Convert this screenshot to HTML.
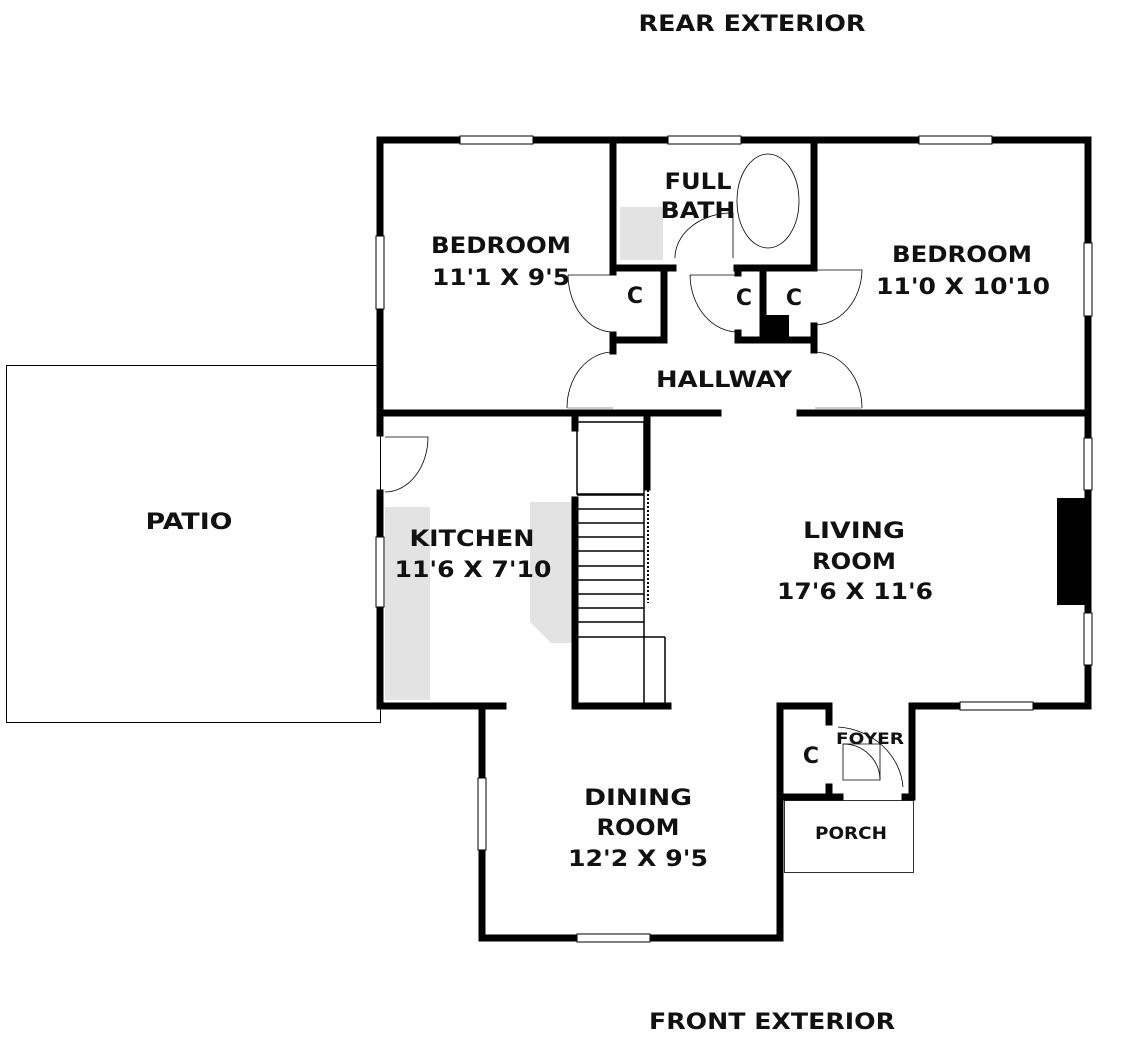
<!DOCTYPE html>
<html><head><style>
body{margin:0;background:#fff;}
svg{display:block;}
text{font-family:"DejaVu Sans","Liberation Sans",sans-serif;font-weight:bold;fill:#111;text-anchor:middle;}
</style></head><body>
<svg width="1132" height="1041" viewBox="0 0 1132 1041" xmlns="http://www.w3.org/2000/svg">
<rect width="1132" height="1041" fill="#fff"/>
<rect x="6.5" y="365.5" width="374" height="357" fill="none" stroke="#000" stroke-width="1"/>
<rect x="383" y="416" width="330" height="288" fill="#fff"/>
<g fill="#e3e3e3">
<rect x="385" y="507" width="45" height="193"/>
<polygon points="530,502 572,502 572,643 551,643 530,622"/>
<rect x="620" y="207" width="43" height="53"/>
</g>
<g stroke="#000" stroke-width="7" fill="none" stroke-linecap="square">
<line x1="380" y1="140" x2="810" y2="140"/>
<line x1="820" y1="140" x2="1088" y2="140"/>
<line x1="380" y1="140" x2="380" y2="433"/>
<line x1="380" y1="493" x2="380" y2="706"/>
<line x1="1088" y1="140" x2="1088" y2="706"/>
<line x1="380" y1="413" x2="718" y2="413"/>
<line x1="800" y1="413" x2="1088" y2="413"/>
<line x1="613" y1="140" x2="613" y2="272"/>
<line x1="613" y1="335" x2="613" y2="351"/>
<line x1="613" y1="268" x2="673" y2="268"/>
<line x1="664" y1="268" x2="664" y2="340"/>
<line x1="613" y1="340" x2="664" y2="340"/>
<line x1="814" y1="140" x2="814" y2="268"/>
<line x1="737" y1="268" x2="814" y2="268"/>
<line x1="738" y1="268" x2="738" y2="273"/>
<line x1="738" y1="333" x2="738" y2="340"/>
<line x1="738" y1="340" x2="814" y2="340"/>
<line x1="763" y1="268" x2="763" y2="340"/>
<line x1="814" y1="326" x2="814" y2="350"/>
<line x1="380" y1="706" x2="503" y2="706"/>
<line x1="482" y1="706" x2="482" y2="938"/>
<line x1="482" y1="938" x2="780" y2="938"/>
<line x1="780" y1="706" x2="780" y2="938"/>
<line x1="780" y1="706" x2="829" y2="706"/>
<line x1="829" y1="706" x2="829" y2="722"/>
<line x1="829" y1="787" x2="829" y2="797"/>
<line x1="780" y1="797" x2="840" y2="797"/>
<line x1="905" y1="797" x2="912" y2="797"/>
<line x1="912" y1="706" x2="912" y2="797"/>
<line x1="912" y1="706" x2="1088" y2="706"/>
<line x1="575" y1="500" x2="575" y2="706"/>
<line x1="575" y1="418" x2="575" y2="428"/>
<line x1="647" y1="418" x2="647" y2="487"/>
<line x1="575" y1="706" x2="668" y2="706"/>
</g>
<rect x="763" y="315" width="26" height="25" fill="#000"/>
<rect x="1057" y="498" width="31" height="107" fill="#000"/>
<g fill="#fff" stroke="#000" stroke-width="1">
<rect x="460" y="136" width="73" height="8"/>
<rect x="668" y="136" width="73" height="8"/>
<rect x="919" y="136" width="73" height="8"/>
<rect x="376" y="236" width="8" height="73"/>
<rect x="376" y="537" width="8" height="70"/>
<rect x="1084" y="243" width="8" height="73"/>
<rect x="1084" y="438" width="8" height="52"/>
<rect x="1084" y="613" width="8" height="52"/>
<rect x="960" y="702" width="73" height="8"/>
<rect x="577" y="934" width="73" height="8"/>
<rect x="478" y="778" width="8" height="72"/>
</g>
<g stroke="#000" stroke-width="1.5" fill="none">
<rect x="577" y="422" width="67" height="72"/>
<line x1="577" y1="495" x2="644" y2="495"/>
<line x1="577" y1="509" x2="644" y2="509"/>
<line x1="577" y1="523" x2="644" y2="523"/>
<line x1="577" y1="537" x2="644" y2="537"/>
<line x1="577" y1="551" x2="644" y2="551"/>
<line x1="577" y1="566" x2="644" y2="566"/>
<line x1="577" y1="580" x2="644" y2="580"/>
<line x1="577" y1="594" x2="644" y2="594"/>
<line x1="577" y1="608" x2="644" y2="608"/>
<line x1="577" y1="622" x2="644" y2="622"/>
<line x1="577" y1="637" x2="665" y2="637"/>
<line x1="644" y1="495" x2="644" y2="703"/>
<line x1="665" y1="637" x2="665" y2="703"/>
</g>
<line x1="648" y1="490" x2="648" y2="603" stroke="#000" stroke-width="2" stroke-dasharray="2,2"/>
<g stroke="#000" stroke-width="0.8" fill="none">
<path d="M385 437 H428 A43 55 0 0 1 385 492"/>
<path d="M568 275 H613"/>
<path d="M568 275 A45 58 0 0 0 613 332"/>
<path d="M613 352 A46 56 0 0 0 567 408"/>
<path d="M690 275 H738"/>
<path d="M690 275 A48 58 0 0 0 738 332"/>
<path d="M814 270 H862 A48 56 0 0 1 814 325"/>
<path d="M814 352 A48 56 0 0 1 862 408"/>
<path d="M675 258 A57 45 0 0 1 733 213 V258"/>
<path d="M838 727 A70 65 0 0 1 903 787"/>
<path d="M843 744 H880 V780 H843 Z"/>
<path d="M843 744 A37 36 0 0 1 880 780"/>
<rect x="784.5" y="800.5" width="129" height="72"/>
<ellipse cx="768" cy="201" rx="31" ry="47"/>
</g>
<line x1="567" y1="408" x2="613" y2="408" stroke="#999" stroke-width="1"/>
<line x1="815" y1="408" x2="862" y2="408" stroke="#999" stroke-width="1"/>
<g font-size="22" lengthAdjust="spacingAndGlyphs">
<text x="752" y="31" textLength="227" lengthAdjust="spacingAndGlyphs">REAR EXTERIOR</text>
<text x="772" y="1029" textLength="246" lengthAdjust="spacingAndGlyphs">FRONT EXTERIOR</text>
<text x="189" y="529" textLength="87" lengthAdjust="spacingAndGlyphs">PATIO</text>
<text x="501" y="253" textLength="140" lengthAdjust="spacingAndGlyphs">BEDROOM</text>
<text x="501" y="285" textLength="138" lengthAdjust="spacingAndGlyphs">11'1 X 9'5</text>
<text x="698" y="189" textLength="67" lengthAdjust="spacingAndGlyphs">FULL</text>
<text x="698" y="218" textLength="75" lengthAdjust="spacingAndGlyphs">BATH</text>
<text x="962" y="262" textLength="140" lengthAdjust="spacingAndGlyphs">BEDROOM</text>
<text x="963" y="294" textLength="174" lengthAdjust="spacingAndGlyphs">11'0 X 10'10</text>
<text x="635" y="303">C</text>
<text x="744" y="305">C</text>
<text x="794" y="305">C</text>
<text x="724" y="387" textLength="136" lengthAdjust="spacingAndGlyphs">HALLWAY</text>
<text x="472" y="546" textLength="125" lengthAdjust="spacingAndGlyphs">KITCHEN</text>
<text x="473" y="577" textLength="157" lengthAdjust="spacingAndGlyphs">11'6 X 7'10</text>
<text x="854" y="538" textLength="102" lengthAdjust="spacingAndGlyphs">LIVING</text>
<text x="854" y="569" textLength="84" lengthAdjust="spacingAndGlyphs">ROOM</text>
<text x="855" y="599" textLength="156" lengthAdjust="spacingAndGlyphs">17'6 X 11'6</text>
<text x="638" y="805" textLength="108" lengthAdjust="spacingAndGlyphs">DINING</text>
<text x="638" y="835" textLength="83" lengthAdjust="spacingAndGlyphs">ROOM</text>
<text x="638" y="866" textLength="140" lengthAdjust="spacingAndGlyphs">12'2 X 9'5</text>
<text x="811" y="763">C</text>
</g>
<text x="870" y="744" font-size="16" textLength="68" lengthAdjust="spacingAndGlyphs">FOYER</text>
<text x="851" y="839" font-size="17" textLength="72" lengthAdjust="spacingAndGlyphs">PORCH</text>
</svg>
</body></html>
